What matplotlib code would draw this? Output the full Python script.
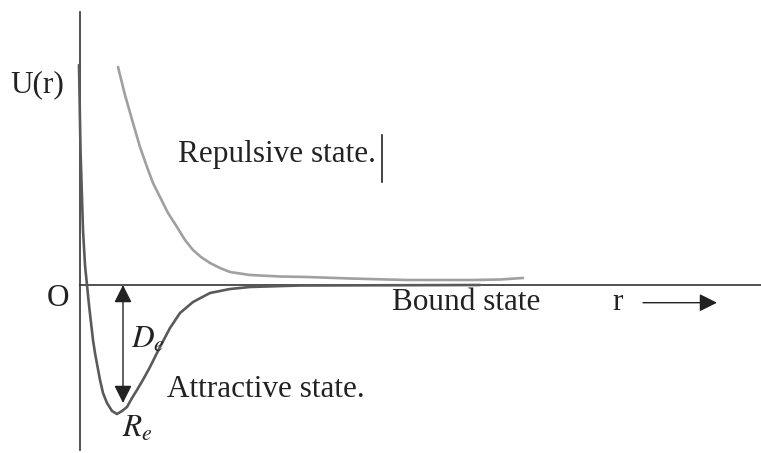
import matplotlib.pyplot as plt

# potential curves (r and U in arbitrary units)
r_att = [-0.01, 0.005, 0.03, 0.05, 0.07, 0.09, 0.107, 0.13, 0.15, 0.20, 0.23, 0.27, 0.32,
         0.37, 0.42, 0.47, 0.52, 0.57, 0.64, 0.70, 0.80, 0.90, 1.00, 1.13, 1.30, 1.50,
         1.70, 2.20, 4.00]
U_att = [2.20, 1.35, 0.55, 0.20, 0.00, -0.20, -0.35, -0.55, -0.68, -0.95, -1.08, -1.18, -1.26,
         -1.29, -1.26, -1.22, -1.13, -1.05, -0.93, -0.82, -0.62, -0.43, -0.28, -0.17, -0.08, -0.04,
         -0.02, -0.005, 0.0]

r_rep = [0.38, 0.45, 0.53, 0.60, 0.67, 0.73, 0.80, 0.88, 0.97, 1.05, 1.13, 1.21, 1.30,
         1.40, 1.50, 1.70, 2.00, 2.27, 2.70, 3.27, 3.93, 4.20, 4.43]
U_rep = [2.18, 1.90, 1.62, 1.38, 1.18, 1.02, 0.88, 0.72, 0.58, 0.45, 0.35, 0.28, 0.22,
         0.17, 0.13, 0.10, 0.085, 0.08, 0.065, 0.05, 0.05, 0.055, 0.07]

r_min = 0.43   # arrow position for D_e
D_e = 1.18

fig = plt.figure(figsize=(7.61, 4.53), dpi=100)
ax = fig.add_axes([0, 0, 1, 1])
ax.set_xlim(-0.8, 6.81)
ax.set_ylim(-1.68, 2.85)
ax.axis('off')

serif = 'Liberation Serif'
fs = 22.5
tc = '#222222'

# axes
ax.plot([0, 0], [2.73, -1.65], color='#333333', lw=1.2)
ax.plot([0, 6.81], [0, 0], color='#333333', lw=1.2)

ax.plot(r_att, U_att, color='#5a5a5a', lw=1.9, solid_capstyle='round', solid_joinstyle='round')
ax.plot(r_rep, U_rep, color='#a0a0a0', lw=1.9, solid_capstyle='round', solid_joinstyle='round')

# D_e arrow
ax.annotate('', xy=(r_min, -D_e), xytext=(r_min, 0),
            arrowprops=dict(arrowstyle='<|-|>,head_length=0.6,head_width=0.3', color=tc, lw=1.0,
                            mutation_scale=18, shrinkA=0, shrinkB=0))

# r arrow
ax.annotate('', xy=(6.37, -0.177), xytext=(5.63, -0.177),
            arrowprops=dict(arrowstyle='-|>,head_length=0.6,head_width=0.3', color=tc, lw=1.0,
                            mutation_scale=18, shrinkA=0, shrinkB=0))

ax.text(-0.70, 1.93, 'U(r)', fontsize=fs, family=serif, va='baseline', color=tc)
ax.text(-0.33, -0.14, 'O', fontsize=fs, family=serif, va='center', ha='left', color=tc)
ax.text(0.98, 1.23, 'Repulsive state.', fontsize=fs, family=serif, va='baseline', color=tc)
ax.plot([3.017, 3.017], [1.50, 1.03], color=tc, lw=1.2)
ax.text(0.51, -0.63, r'$D_e$', fontsize=fs, va='baseline', color=tc, math_fontfamily='stix')
ax.text(0.42, -1.52, r'$R_e$', fontsize=fs, va='baseline', color=tc, math_fontfamily='stix')
ax.text(0.87, -1.12, 'Attractive state.', fontsize=fs, family=serif, va='baseline', color=tc)
ax.text(3.12, -0.25, 'Bound state', fontsize=fs, family=serif, va='baseline', color=tc)
ax.text(5.32, -0.25, 'r', fontsize=fs, family=serif, va='baseline', color=tc)

fig.savefig('out.png', dpi=100)
